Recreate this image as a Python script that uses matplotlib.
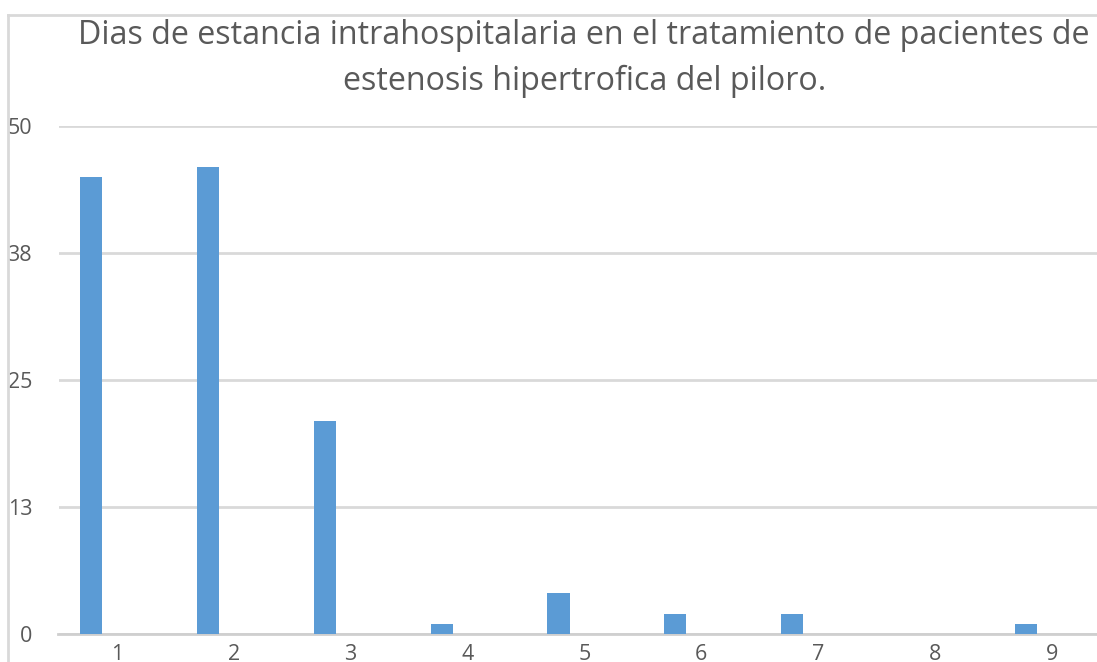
import numpy as np
from matplotlib import pyplot as plt
from matplotlib.lines import Line2D

# dias de estancia / numero de pacientes
dias = ['1', '2', '3', '4', '5', '6', '7', '8', '9']
pacientes = [45, 46, 21, 1, 4, 2, 2, 0, 1]
yticks = [0, 13, 25, 38, 50]
titulo = ['Dias de estancia intrahospitalaria en el tratamiento de pacientes de',
          'estenosis hipertrofica del piloro.']

W, H = 1097, 662
plt.rcParams['font.family'] = ['Open Sans', 'DejaVu Sans']
gray = '#595959'
grid = '#d9d9d9'
blue = '#5b9bd5'

fig = plt.figure(figsize=(W/100, H/100), dpi=100)
fig.patch.set_facecolor('white')

# plot area runs past the right edge of the picture (cropped screenshot)
left, right, top, bottom = 58.5, 1110, 126, 634
ax = fig.add_axes([left/W, (H-bottom)/H, (right-left)/W, (bottom-top)/H])

x = np.arange(len(dias))
ax.bar(x - 0.22, pacientes, width=0.19, color=blue, zorder=3)
ax.set_xlim(-0.5, len(dias)-0.5)
ax.set_ylim(0, 50)
ax.set_xticks(x)
ax.set_xticklabels(dias)
ax.set_yticks([0, 12.5, 25, 37.5, 50])
ax.set_yticklabels([str(v) for v in yticks])
ax.tick_params(length=0, labelsize=15.5, colors=gray)
ax.tick_params(axis='y', pad=19)
ax.tick_params(axis='x', pad=7)
ax.yaxis.grid(True, color=grid, linewidth=2)
ax.set_axisbelow(True)
for s in ['top', 'right', 'left']:
    ax.spines[s].set_visible(False)
ax.spines['bottom'].set_color('#cfcfcf')
ax.spines['bottom'].set_linewidth(2)

# chart border (only top and left visible)
fig.add_artist(Line2D([8/W, 8/W], [0, (H-15)/H], color=grid, lw=2))
fig.add_artist(Line2D([8/W, 1], [(H-15)/H, (H-15)/H], color=grid, lw=2))

cx = (left+right)/2/W
for linea, base in zip(titulo, [44.3, 90]):
    fig.text(cx, (H-base)/H, linea, ha='center', va='baseline',
             fontsize=23.2, color=gray)

fig.savefig('out.png', dpi=100)
